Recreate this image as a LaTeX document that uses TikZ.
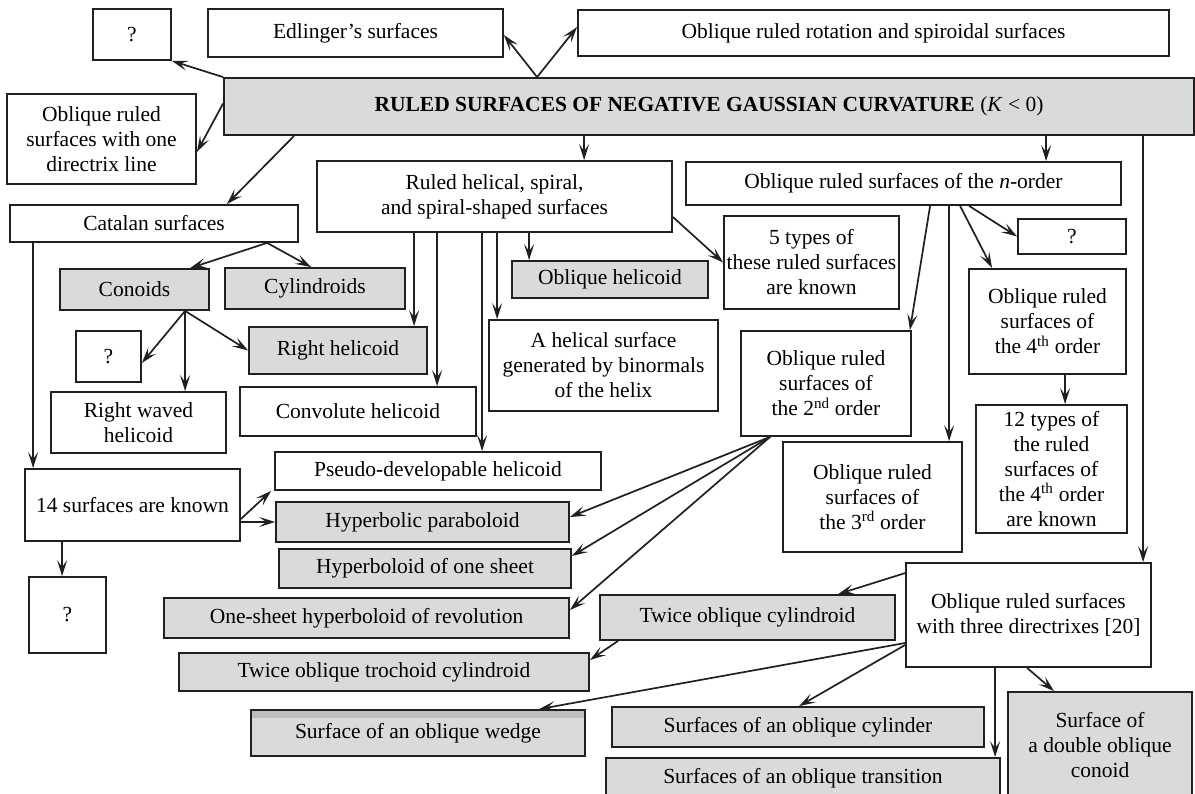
\documentclass[tikz,border=0pt]{standalone}
\usepackage{fontspec}
\setmainfont{Liberation Serif}
\usetikzlibrary{arrows.meta}
\definecolor{boxgray}{HTML}{D9DADC}
\definecolor{stripgray}{HTML}{BDBEC1}
\definecolor{ink}{HTML}{231F20}
\tikzset{
  box/.style={draw=ink, line width=1.8pt, fill=white, align=center, inner sep=2pt,
    font=\fontsize{21.5}{25}\selectfont},
  gbox/.style={box, fill=boxgray},
  arr/.style={draw=ink, line width=1.7pt, -{Stealth[length=16pt,width=10pt,inset=7pt]}}
}
\begin{document}
\begin{tikzpicture}[x=1pt, y=-1pt]
\useasboundingbox (0,0) rectangle (1195,794);
% Top row
\node[box, minimum width=78, minimum height=51] (q1) at (132,34.5) {?};
\node[box, minimum width=295, minimum height=48] (edl) at (355.5,33) {Edlinger’s surfaces};
\node[box, minimum width=591, minimum height=46] (rot) at (873.5,33) {Oblique ruled rotation and spiroidal surfaces};
% Main box
\node[gbox, minimum width=970, minimum height=57] (main) at (709,106.5)
  {\textbf{RULED SURFACES OF NEGATIVE GAUSSIAN CURVATURE} (\textit{K} < 0)};
\node[box, minimum width=189, minimum height=90] (dir1) at (101.5,139) {Oblique ruled\\surfaces with one\\directrix line};
% Second level
\node[box, minimum width=288, minimum height=37] (cat) at (154,223.5) {Catalan surfaces};
\node[box, minimum width=355, minimum height=71] (hel) at (494.5,196.5) {Ruled helical, spiral,\\and spiral-shaped surfaces};
\node[box, minimum width=435, minimum height=43] (nord) at (903.5,183.5) {Oblique ruled surfaces of the \textit{n}-order};
% Catalan branch
\node[gbox, minimum width=149, minimum height=41] (con) at (134.5,289.5) {Conoids};
\node[gbox, minimum width=180, minimum height=41] (cyl) at (315,288.5) {Cylindroids};
\node[box, minimum width=65, minimum height=51] (q3) at (108.5,356.5) {?};
\node[box, minimum width=175, minimum height=61] (rwav) at (138.5,422.5) {Right waved\\helicoid};
\node[gbox, minimum width=178, minimum height=47] (rhel) at (338,350.5) {Right helicoid};
\node[box, minimum width=215, minimum height=72] (kn14) at (132.5,505) {14 surfaces are known};
\node[box, minimum width=77, minimum height=76] (q4) at (67.5,615) {?};
% Helical branch
\node[gbox, minimum width=196, minimum height=37] (obh) at (610,279.5) {Oblique helicoid};
\node[box, minimum width=175, minimum height=93] (five) at (811.5,262.5) {5 types of\\these ruled surfaces\\are known};
\node[box, minimum width=229, minimum height=91] (bin) at (603.5,365.5) {A helical surface\\generated by binormals\\of the helix};
\node[box, minimum width=236, minimum height=49] (conv) at (358,411.5) {Convolute helicoid};
\node[box, minimum width=326, minimum height=38] (pdev) at (438,471) {Pseudo-developable helicoid};
% n-order branch
\node[box, minimum width=108, minimum height=35] (q2) at (1072,236.5) {?};
\node[box, minimum width=170, minimum height=105] (ord2) at (826,383.5) {Oblique ruled\\surfaces of\\the 2\textsuperscript{nd} order};
\node[box, minimum width=157, minimum height=105] (ord4) at (1047.5,321.5) {Oblique ruled\\surfaces of\\the 4\textsuperscript{th} order};
\node[box, minimum width=179, minimum height=110] (ord3) at (872.5,497) {Oblique ruled\\surfaces of\\the 3\textsuperscript{rd} order};
\node[box, minimum width=151, minimum height=128] (typ12) at (1051.5,469) {12 types of\\the ruled\\surfaces of\\the 4\textsuperscript{th} order\\are known};
% Second order surfaces
\node[gbox, minimum width=293, minimum height=40] (hpar) at (422.5,522) {Hyperbolic paraboloid};
\node[gbox, minimum width=292, minimum height=39] (hone) at (425,568.5) {Hyperboloid of one sheet};
\node[gbox, minimum width=405, minimum height=40] (hrev) at (366.5,618) {One-sheet hyperboloid of revolution};
% Three directrixes
\node[box, minimum width=245, minimum height=104] (dir3) at (1028.5,615) {Oblique ruled surfaces\\with three directrixes [20]};
\node[gbox, minimum width=295, minimum height=45] (tcyl) at (747.5,617.5) {Twice oblique cylindroid};
\node[gbox, minimum width=410, minimum height=38] (troc) at (384,672) {Twice oblique trochoid cylindroid};
\node[gbox, minimum width=334, minimum height=46,
  path picture={\fill[stripgray] (path picture bounding box.north west) rectangle ([yshift=-8pt]path picture bounding box.north east);}]
  (wedge) at (418,733) {Surface of an oblique wedge};
\node[gbox, minimum width=372, minimum height=40] (ocyl) at (798,727) {Surfaces of an oblique cylinder};
\node[gbox, minimum width=394, minimum height=40] (otr) at (803,778) {Surfaces of an oblique transition};
\node[gbox, minimum width=184, minimum height=106] (dcon) at (1100,745) {Surface of\\a double oblique\\conoid};
% Arrows from the main box
\draw[arr] ([xshift=314pt]main.north west) -- ([yshift=-2pt]edl.east);
\draw[arr] ([xshift=314pt]main.north west) -- ([yshift=6pt]rot.west);
\draw[arr] (main.north west) -- (q1.south east);
\draw[arr] ([yshift=3pt]main.west) -- ([yshift=-13pt]dir1.east);
\draw[arr] ([xshift=71pt]main.south west) -- ([xshift=-72pt]cat.north east);
\draw[arr] ([xshift=361pt]main.south west) -- ([xshift=268pt]hel.north west);
\draw[arr] ([xshift=823pt]main.south west) -- ([xshift=361pt]nord.north west);
\draw[arr] ([xshift=920pt]main.south west) -- ([xshift=238pt]dir3.north west);
% Catalan surfaces
\draw[arr] ([xshift=258pt]cat.south west) -- ([xshift=131pt]con.north west);
\draw[arr] ([xshift=258pt]cat.south west) -- ([xshift=87pt]cyl.north west);
\draw[arr] ([xshift=24pt]cat.south west) -- ([xshift=9pt]kn14.north west);
\draw[arr] ([xshift=126pt]con.south west) -- ([yshift=-6.5pt]q3.east);
\draw[arr] ([xshift=126pt]con.south west) -- ([xshift=135pt]rwav.north west);
\draw[arr] ([xshift=126pt]con.south west) -- (rhel.west);
\draw[arr] ([yshift=-14pt]kn14.east) -- ([xshift=-3pt]pdev.south west);
\draw[arr] ([yshift=-17pt]kn14.east) -- (hpar.west);
\draw[arr] ([xshift=38pt]kn14.south west) -- ([xshift=34pt]q4.north west);
% Helical surfaces
\draw[arr] ([xshift=98pt]hel.south west) -- ([xshift=166pt]rhel.north west);
\draw[arr] ([xshift=121pt]hel.south west) -- ([xshift=198pt]conv.north west);
\draw[arr] ([xshift=166pt]hel.south west) -- ([xshift=208pt]pdev.north west);
\draw[arr] ([xshift=181pt]hel.south west) -- ([xshift=9pt]bin.north west);
\draw[arr] ([xshift=213pt]hel.south west) -- ([xshift=18pt]obh.north west);
\draw[arr] ([yshift=-20.5pt]hel.east) -- (five.west);
% n-order surfaces
\draw[arr] ([xshift=245pt]nord.south west) -- ([xshift=-2pt]ord2.north east);
\draw[arr] ([xshift=264pt]nord.south west) -- ([xshift=167pt]ord3.north west);
\draw[arr] ([xshift=275pt]nord.south west) -- ([xshift=24pt]ord4.north west);
\draw[arr] ([xshift=284pt]nord.south west) -- (q2.west);
\draw[arr] ([xshift=97pt]ord4.south west) -- ([xshift=90pt]typ12.north west);
\draw[arr] ([xshift=30pt]ord2.south west) -- ([yshift=5pt]hpar.east);
\draw[arr] ([xshift=30pt]ord2.south west) -- ([yshift=12.5pt]hone.east);
\draw[arr] ([xshift=30pt]ord2.south west) -- ([yshift=8pt]hrev.east);
% Three directrixes
\draw[arr] ([yshift=-11pt]dir3.north west) -- ([xshift=239pt]tcyl.north west);
\draw[arr] ([xshift=19pt]tcyl.south west) -- ([yshift=12pt]troc.east);
\draw[arr] ([yshift=-28pt]dir3.west) -- ([xshift=289pt]wedge.north west);
\draw[arr] ([yshift=-30pt]dir3.west) -- ([xshift=188pt]ocyl.north west);
\draw[arr] ([xshift=90pt]dir3.south west) -- ([xshift=390pt]otr.north west);
\draw[arr] ([xshift=122pt]dir3.south west) -- ([xshift=47pt]dcon.north west);
\end{tikzpicture}
\end{document}
